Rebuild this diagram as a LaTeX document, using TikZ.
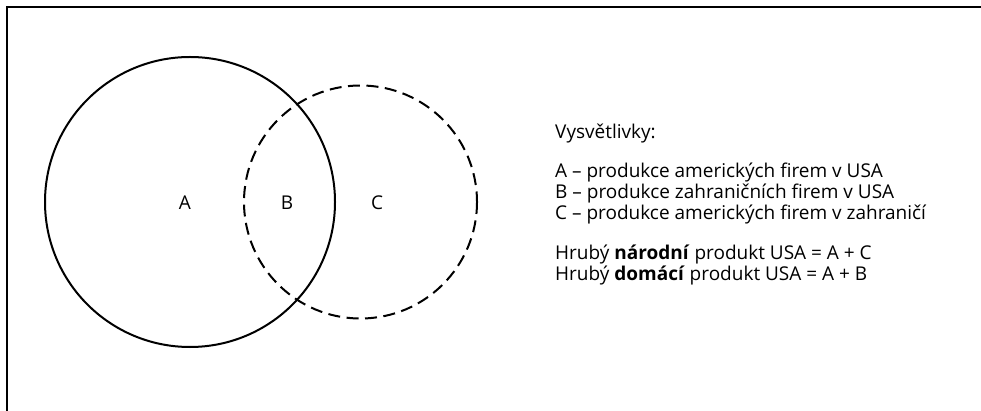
\documentclass[tikz,border=0pt]{standalone}
\usepackage{fontspec}
\setmainfont{Open Sans}
\begin{document}
\begin{tikzpicture}[x=1pt,y=-1pt,
  frame/.style={line width=1.2pt,black},
  solidset/.style={line width=2pt},
  dashset/.style={line width=2pt,dash pattern=on 12pt off 6.5pt},
  setlabel/.style={font=\fontsize{19}{23}\selectfont,inner sep=0pt},
  legend/.style={font=\fontsize{19}{23}\selectfont,inner sep=0pt,anchor=base west}]
\useasboundingbox (0,0) rectangle (981,411);
\coordinate (tl) at (7,7);
\coordinate (tr) at (981,7);
\coordinate (bl) at (7,411);
\draw[frame] (tr) -- (tl) -- (bl);
\draw[solidset] (190,202) circle[radius=145];
\draw[dashset] (360.5,202) circle[radius=116.5];
\node[setlabel] (A) at (185,203) {A};
\node[setlabel] (B) at (287,203) {B};
\node[setlabel] (C) at (377,203) {C};
\node[legend] (h) at (555,139) {Vysvětlivky:};
\node[legend] (la) at (555,178) {A – produkce amerických firem v USA};
\node[legend] (lb) at (555,199) {B – produkce zahraničních firem v USA};
\node[legend] (lc) at (555,220) {C – produkce amerických firem v zahraničí};
\node[legend] (hnp) at (555,260) {Hrubý \textbf{národní} produkt USA = A + C};
\node[legend] (hdp) at (555,280) {Hrubý \textbf{domácí} produkt USA = A + B};
\end{tikzpicture}
\end{document}
